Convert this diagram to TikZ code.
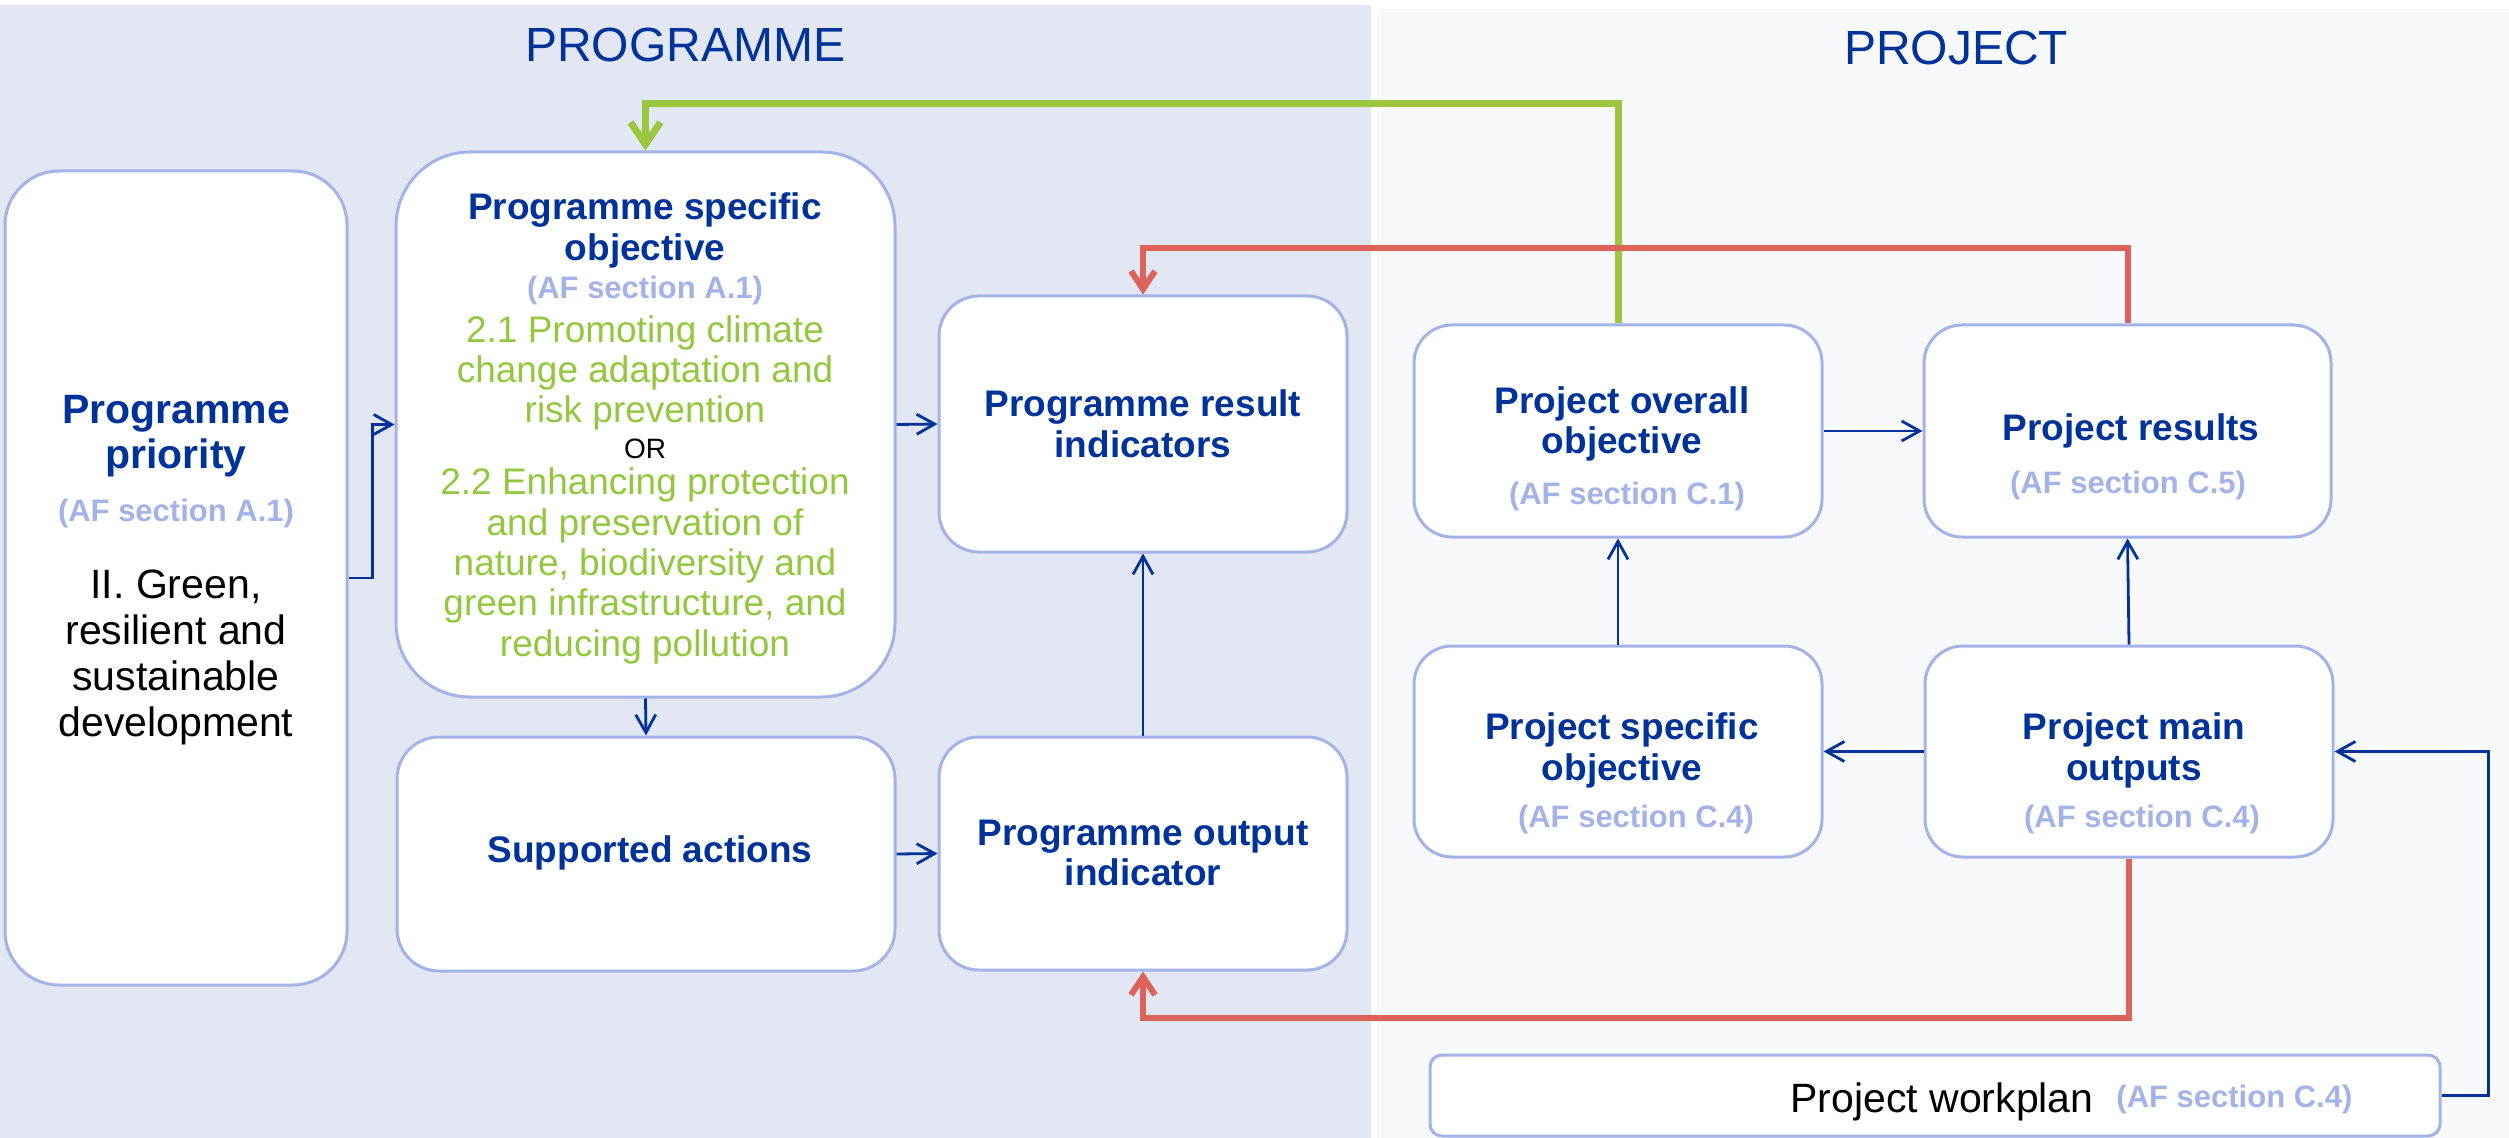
\documentclass[tikz,border=0pt]{standalone}
\usepackage{fontspec}
\setmainfont{Liberation Sans}
\usetikzlibrary{arrows.meta}
\definecolor{navy}{HTML}{003399}
\definecolor{lblue}{HTML}{A3B3E8}
\definecolor{afblue}{HTML}{A3B3E8}
\definecolor{gtext}{HTML}{92C83E}
\definecolor{gline}{HTML}{9AC73E}
\definecolor{rline}{HTML}{DD625A}
\definecolor{bgleft}{HTML}{E3E7F4}
\definecolor{bgright}{HTML}{F7F9FD}
\begin{document}
\begin{tikzpicture}[x=0.5pt,y=-0.5pt,
  box/.style={draw=lblue,line width=1.5pt,fill=white,inner sep=0pt},
  head/.style={text=navy,font=\fontsize{18.5pt}{20.3pt}\selectfont\bfseries,align=center,inner sep=0pt},
  bighead/.style={text=navy,font=\fontsize{20.5pt}{22.5pt}\selectfont\bfseries,align=center,inner sep=0pt},
  body/.style={text=black,font=\fontsize{20.5pt}{23pt}\selectfont,align=center,inner sep=0pt},
  af/.style={text=afblue,font=\fontsize{15.5pt}{17pt}\selectfont\bfseries,inner sep=0pt},
  gtxt/.style={text=gtext,font=\fontsize{18.5pt}{20.2pt}\selectfont,align=center,inner sep=0pt},
  ortxt/.style={text=black,font=\fontsize{14pt}{16pt}\selectfont,inner sep=0pt},
  title/.style={text=navy,font=\fontsize{24pt}{28pt}\selectfont,inner sep=0pt},
  conn/.style={draw=navy,line width=1.4pt,-{Straight Barb[length=9pt,width=10pt]}},
  gfb/.style={draw=gline,line width=3.5pt,-{Straight Barb[length=11pt,width=15pt]}},
  rfb/.style={draw=rline,line width=3pt,-{Straight Barb[length=9pt,width=12pt]}}
]
\useasboundingbox (0,0) rectangle (2509,1138);
% backgrounds
\fill[white] (0,0) rectangle (2509,1138);
\fill[bgleft] (0,5) rectangle (1371,1138);
\fill[bgright] (1377,9) rectangle (2509,1138);

% titles
\node[title] (tprog) at (685,45) {PROGRAMME};
\node[title] (tproj) at (1956,47.5) {PROJECT};

% boxes
\node[box,rounded corners=27pt,minimum width=171pt,minimum height=407pt] (pri) at (176,578) {};
\node[box,rounded corners=37pt,minimum width=249.5pt,minimum height=272.5pt] (pso) at (645.5,424.5) {};
\node[box,rounded corners=21pt,minimum width=249pt,minimum height=117pt] (sa) at (646,854) {};
\node[box,rounded corners=20pt,minimum width=204pt,minimum height=128pt] (ri) at (1143,424) {};
\node[box,rounded corners=20pt,minimum width=204pt,minimum height=116.5pt] (oi) at (1143,853.5) {};
\node[box,rounded corners=19pt,minimum width=204pt,minimum height=106pt] (poo) at (1618,431) {};
\node[box,rounded corners=19pt,minimum width=203.5pt,minimum height=106pt] (pr) at (2127.5,431) {};
\node[box,rounded corners=19pt,minimum width=204pt,minimum height=105.5pt] (pspo) at (1618,751.5) {};
\node[box,rounded corners=19pt,minimum width=204pt,minimum height=105.5pt] (pmo) at (2129,751.5) {};
\node[box,rounded corners=6pt,minimum width=505pt,minimum height=40.5pt] (wp) at (1935,1095.5) {};

% texts: programme priority
\node[bighead] (prih) at (176,436) {Programme\\priority};
\node[af] (pria) at (176,513) {(AF section A.1)};
\node[body] (prib) at (176,657) {II. Green,\\resilient and\\sustainable\\development};

% programme specific objective
\node[head] (psoh) at (645,230.5) {Programme specific\\objective};
\node[af] (psoa) at (645,290) {(AF section A.1)};
\node[gtxt] (psog1) at (645,373) {2.1 Promoting climate\\change adaptation and\\risk prevention};
\node[ortxt] (psor) at (645,448.5) {OR};
\node[gtxt] (psog2) at (645,566) {2.2 Enhancing protection\\and preservation of\\nature, biodiversity and\\green infrastructure, and\\reducing pollution};

% other programme boxes
\node[head] (sah) at (650,853) {Supported actions};
\node[head] (rih) at (1143,424) {Programme result\\indicators};
\node[head] (oih) at (1143,853) {Programme output\\indicator};

% project boxes
\node[head] (pooh) at (1622,424) {Project overall\\objective};
\node[af] (pooa) at (1627,496) {(AF section C.1)};
\node[head] (prh) at (2131,431) {Project results};
\node[af] (pra) at (2128,485) {(AF section C.5)};
\node[head] (pspoh) at (1622,750.5) {Project specific\\objective};
\node[af] (pspoa) at (1636,819) {(AF section C.4)};
\node[head] (pmoh) at (2134,750.5) {Project main\\outputs};
\node[af] (pmoa) at (2142,819) {(AF section C.4)};
\node[body,anchor=base east] (wph) at (2094,1112) {Project workplan};
\node[af,anchor=base west] (wpa) at (2116,1107) {(AF section C.4)};

% navy connectors
\draw[conn] (pri.east) -- ++(24,0) |- (pso.west);
\draw[conn] (pso.south) -- (sa.north);
\draw[conn] (pso.east) -- (ri.west);
\draw[conn] (sa.east) -- (oi.west);
\draw[conn] (oi.north) -- (ri.south);
\draw[conn] (poo.east) -- (pr.west);
\draw[conn] (pspo.north) -- (poo.south);
\draw[conn] (pmo.north) -- (pr.south);
\draw[conn] (pmo.west) -- (pspo.east);
\draw[conn] (wp.east) -- ++(47,0) |- (pmo.east);

% feedback lines
\draw[gfb] (poo.north) -- (poo.north |- 0,104) -| (pso.north);
\draw[rfb] (pr.north) -- (pr.north |- 0,248) -| (ri.north);
\draw[rfb] (pmo.south) -- (pmo.south |- 0,1018) -| (oi.south);
\end{tikzpicture}
\end{document}
